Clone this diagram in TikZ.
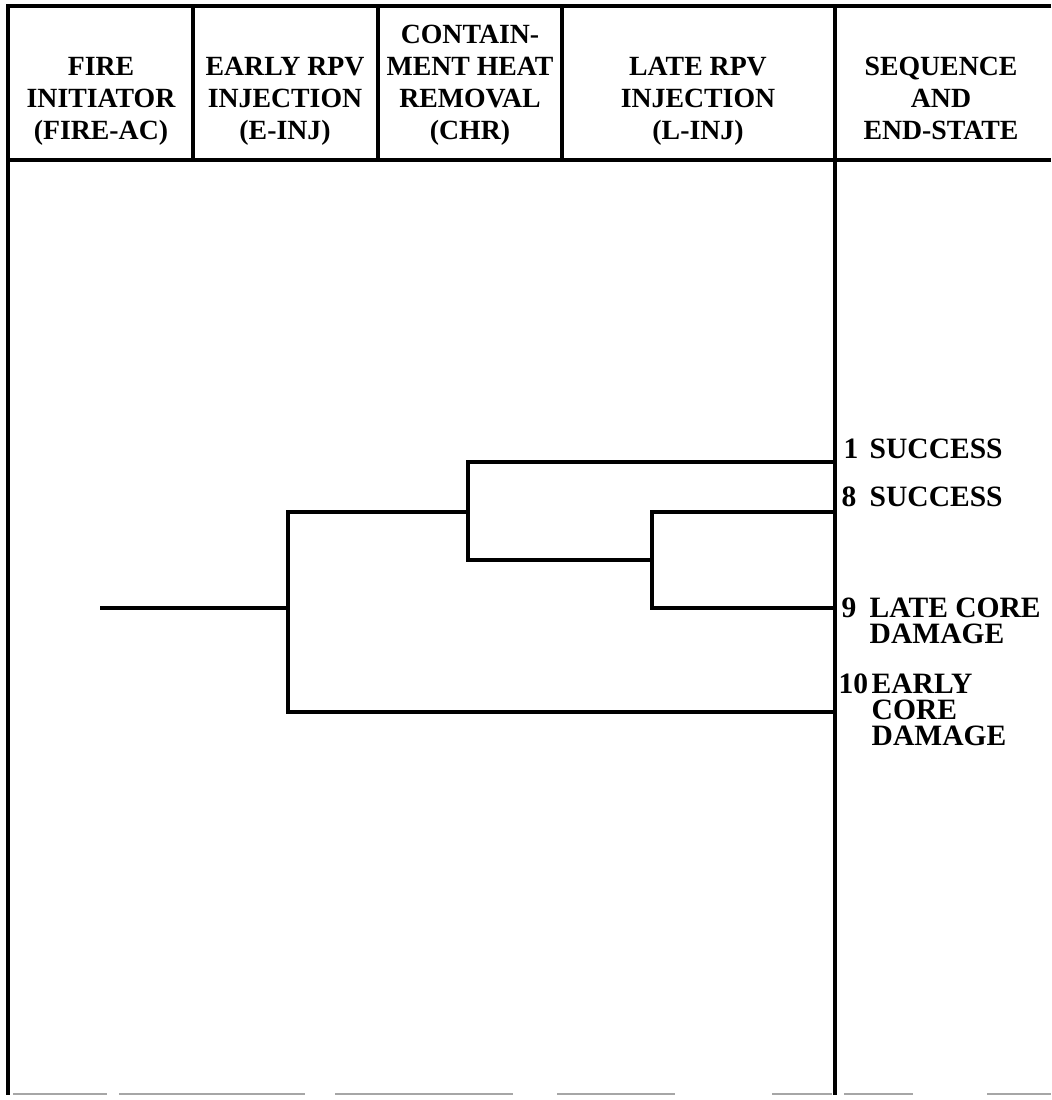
\documentclass[tikz,border=0pt]{standalone}
\usepackage{fontspec}
\setmainfont{Liberation Serif}
\usepackage{tikz}
\tikzset{
  head/.style={align=center,font=\fontsize{7.9}{9.1}\selectfont\bfseries,inner sep=0pt,anchor=south},
  endstate/.style={align=left,font=\fontsize{8.4}{7.4}\selectfont\bfseries,inner sep=0pt,anchor=north west},
  branch/.style={line width=0.9pt},
  frame/.style={line width=1.1pt}
}

\begin{document}
\begin{tikzpicture}[x=0.01cm,y=-0.01cm]
  \useasboundingbox (0,0) rectangle (1051,1100);
  % table frame
  \draw[frame] (1051,6) -- (8,6) -- (8,1095);
  \draw[frame] (8,160) -- (1051,160);
  \foreach \x in {193,378,562}
    \draw[frame] (\x,6) -- (\x,160);
  \draw[frame] (835,6) -- (835,1095);
  % torn lower edge
  \foreach \a/\b in {13/107,119/305,335/513,557/675,772/832,844/913,987/1051}
    \draw[gray!70,line width=0.6pt] (\a,1094) -- (\b,1094);

  % column headings
  \node[head] (fire) at (101,150) {FIRE\\INITIATOR\\(FIRE-AC)\strut};
  \node[head] (einjhd) at (285,150) {EARLY RPV\\INJECTION\\(E-INJ)\strut};
  \node[head] (chrhd) at (470,150) {CONTAIN-\\MENT HEAT\\REMOVAL\\(CHR)\strut};
  \node[head] (linjhd) at (698,150) {LATE RPV\\INJECTION\\(L-INJ)\strut};
  \node[head] (seqhd) at (941,150) {SEQUENCE\\AND\\END-STATE\strut};

  % event tree
  \coordinate (start) at (100,608);
  \coordinate (einj) at (288,608);
  \coordinate (chr) at (468,512);
  \coordinate (linj) at (652,560);
  \coordinate (seq1) at (835,462);
  \coordinate (seq8) at (835,512);
  \coordinate (seq9) at (835,608);
  \coordinate (seq10) at (835,712);
  \draw[branch] (start) -- (einj);
  \draw[branch] (einj) |- (chr);
  \draw[branch] (einj) |- (seq10);
  \draw[branch] (chr) |- (seq1);
  \draw[branch] (chr) |- (linj);
  \draw[branch] (linj) |- (seq8);
  \draw[branch] (linj) |- (seq9);

  % end states
  \node[endstate] (n1) at (843,438) {1};
  \node[endstate] (s1) at (869,438) {SUCCESS};
  \node[endstate] (n8) at (841,486) {8};
  \node[endstate] (s8) at (869,486) {SUCCESS};
  \node[endstate] (n9) at (841,597) {9};
  \node[endstate] (s9) at (869,597) {LATE CORE\\DAMAGE};
  \node[endstate] (n10) at (838,673) {10};
  \node[endstate] (s10) at (871,673) {EARLY\\CORE\\DAMAGE};
\end{tikzpicture}
\end{document}
